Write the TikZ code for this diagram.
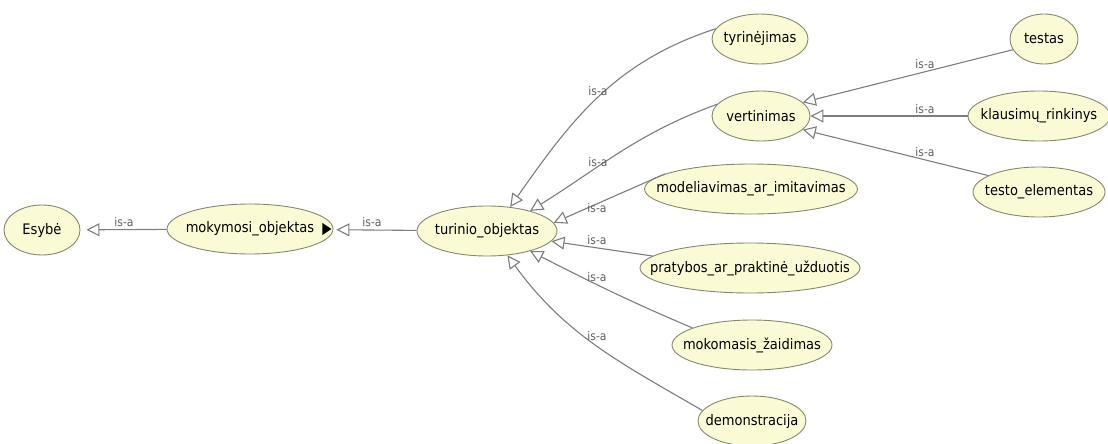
\documentclass[tikz,border=0pt]{standalone}
\usepackage{fontspec}
\setmainfont{DejaVu Sans Condensed}
\usepackage{tikz}
\usetikzlibrary{arrows.meta,shapes.geometric}
\definecolor{nodefill}{RGB}{250,250,212}
\definecolor{nodeline}{RGB}{135,135,110}
\definecolor{edgegray}{RGB}{125,125,125}
\definecolor{isatext}{RGB}{95,95,95}

\begin{document}
\begin{tikzpicture}[x=1pt,y=1pt,
      concept/.style={ellipse, draw=nodeline, fill=nodefill, line width=0.9pt,
             inner xsep=-40pt, inner ysep=-20pt, minimum height=50pt,
             font=\fontsize{14.5}{16}\selectfont},
      isa/.style={text=isatext, inner sep=0pt, font=\fontsize{12}{14}\selectfont},
      sub/.style={draw=edgegray, line width=1.1pt,
             -{Triangle[open, length=13pt, width=13pt, fill=white]}},
      ]
      \useasboundingbox (0,0) rectangle (1108,-444);
      % concepts
      \node[concept, minimum width=76pt]  (esybe)     at (42,-230)   {Esybė};
      \node[concept, minimum width=166pt] (mokymosi)  at (250,-229)  {mokymosi\_objektas};
      \node[concept, minimum width=140pt] (turinio)   at (487,-231)  {turinio\_objektas};
      \node[concept, minimum width=96pt]  (tyrinejimas) at (760,-39) {tyrinėjimas};
      \node[concept, minimum width=98pt]  (vertinimas)  at (761,-116) {vertinimas};
      \node[concept, minimum width=213pt] (modeliavimas) at (751,-189) {modeliavimas\_ar\_imitavimas};
      \node[concept, minimum width=220pt] (pratybos)  at (750,-268)  {pratybos\_ar\_praktinė\_užduotis};
      \node[concept, minimum width=160pt] (zaidimas)  at (752,-345)  {mokomasis\_žaidimas};
      \node[concept, minimum width=108pt] (demonstracija) at (752,-421) {demonstracija};
      \node[concept, minimum width=68pt]  (testas)    at (1044,-39)  {testas};
      \node[concept, minimum width=142pt] (rinkinys)  at (1039,-116) {klausimų\_rinkinys};
      \node[concept, minimum width=132pt] (elementas) at (1039,-192) {testo\_elementas};
      % collapse mark
      \fill ([xshift=-2pt]mokymosi.east) -- ++(-9,6) -- ++(0,-12) -- cycle;
      % is-a links
      \draw[sub, shorten >=6pt] (mokymosi) -- (esybe);
      \draw[sub, shorten >=3pt] (turinio) -- (mokymosi);
      \draw[sub] (tyrinejimas.167) to[out=198, in=55] (turinio.46);
      \draw[sub] (vertinimas.165) to[out=200, in=32] (turinio.25);
      \draw[sub] (modeliavimas.170) -- (turinio.7);
      \draw[sub] (pratybos.173) -- (turinio.-9);
      \draw[sub] (zaidimas.164) to[out=157, in=-27] (turinio.-25);
      \draw[sub] (demonstracija.168) to[out=150, in=-54] (turinio.-50);
      \draw[sub] (testas.199) -- (vertinimas.18);
      \draw[sub] (rinkinys) -- (vertinimas);
      \draw[sub] (elementas.162) -- (vertinimas.-18);
      % labels
      \node[isa] (l1)  at (124,-222) {is-a};
      \node[isa] (l2)  at (372,-222) {is-a};
      \node[isa] (l3)  at (598,-91)  {is-a};
      \node[isa] (l4)  at (598,-162) {is-a};
      \node[isa] (l5)  at (597,-208) {is-a};
      \node[isa] (l6)  at (597,-240) {is-a};
      \node[isa] (l7)  at (597,-277) {is-a};
      \node[isa] (l8)  at (597,-336) {is-a};
      \node[isa] (l9)  at (925,-64)  {is-a};
      \node[isa] (l10) at (925,-109) {is-a};
      \node[isa] (l11) at (925,-152) {is-a};
\end{tikzpicture}
\end{document}
